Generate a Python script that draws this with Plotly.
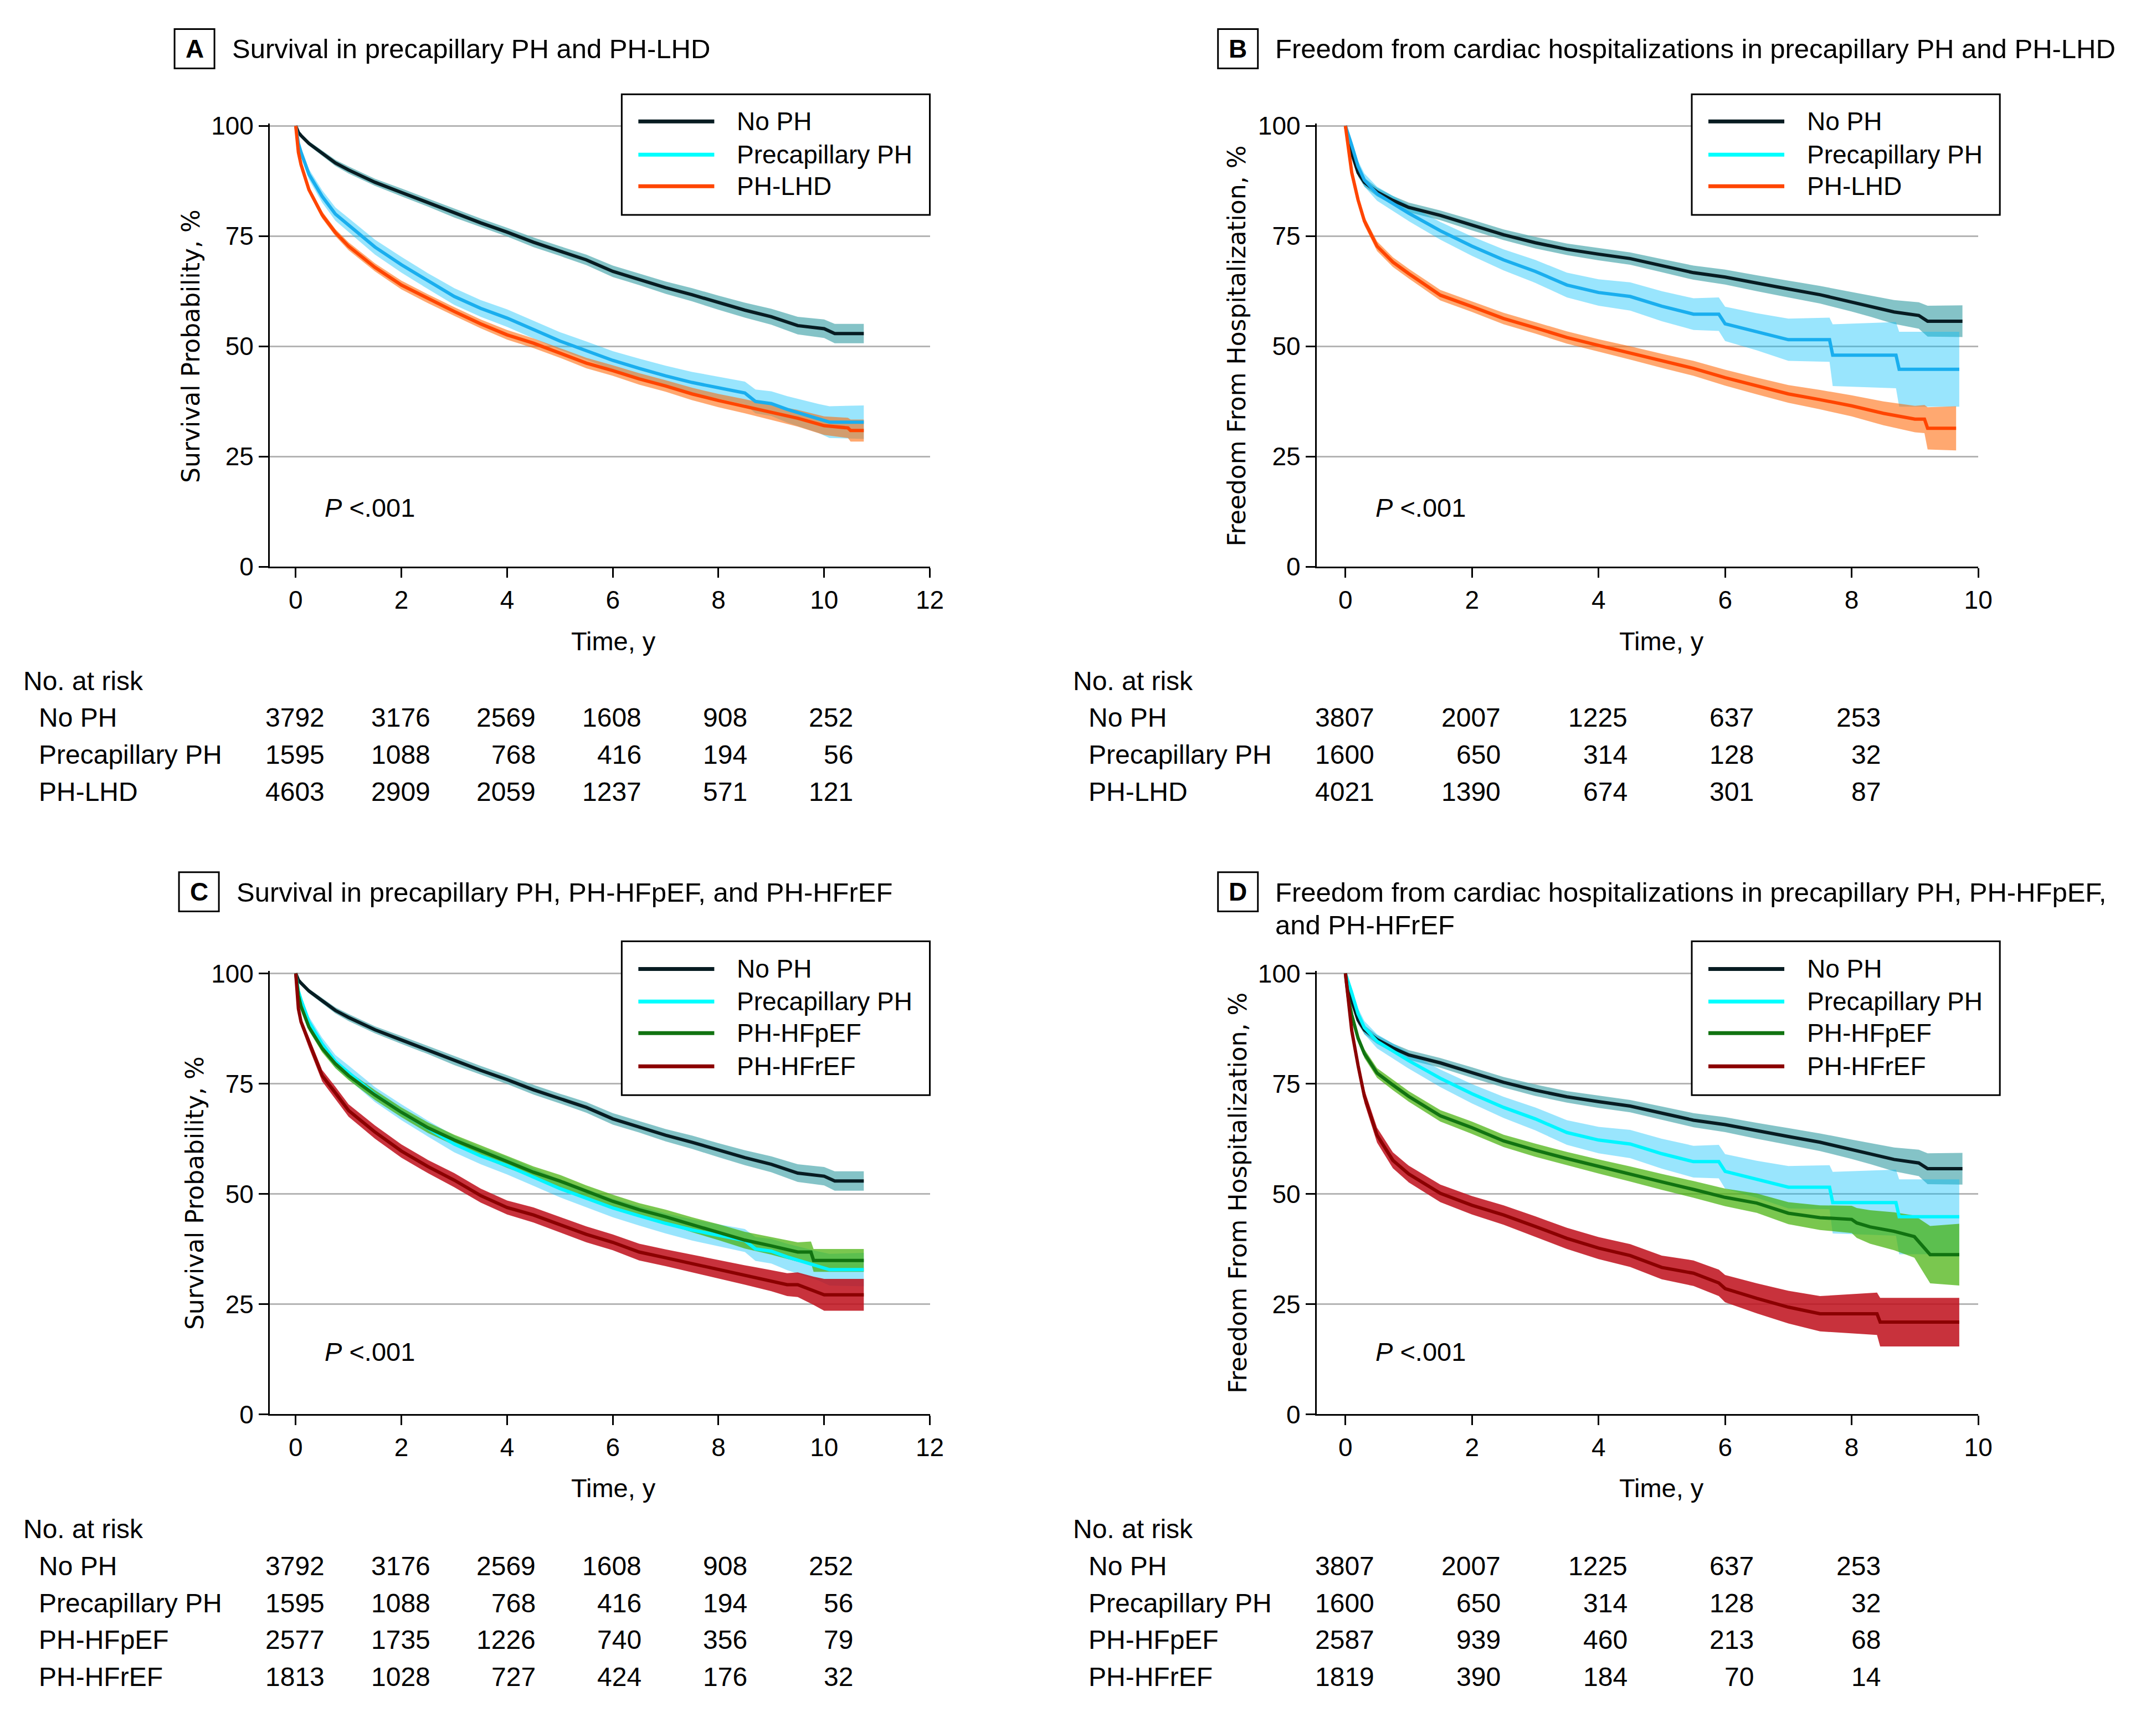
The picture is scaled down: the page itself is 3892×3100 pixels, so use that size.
import plotly.graph_objects as go

W, H = 3892, 3100

# ---------------- data ----------------
# Survival (panels A and C)
SURV_NOPH_T = [0, 0.05, 0.1, 0.25, 0.5, 0.75, 1, 1.5, 2, 2.5, 3, 3.5, 4, 4.5, 5, 5.5, 6, 6.5, 7, 7.5, 8, 8.5, 9, 9.5, 10, 10.2, 10.75]
SURV_NOPH_S = [100, 98.5, 97.8, 96, 93.8, 91.6, 90, 87.2, 84.9, 82.6, 80.2, 78, 75.9, 73.6, 71.6, 69.6, 67, 65.2, 63.3, 61.7, 59.9, 58.2, 56.7, 54.7, 54, 52.9, 52.9]
SURV_NOPH_CI = [0, 0.3, 0.4, 0.5, 0.6, 0.7, 0.8, 0.8, 0.9, 0.9, 1.0, 1.0, 1.0, 1.1, 1.1, 1.2, 1.3, 1.3, 1.4, 1.5, 1.6, 1.7, 1.8, 2.0, 2.1, 2.2, 2.2]

SURV_PRE_T = [0, 0.05, 0.1, 0.25, 0.5, 0.75, 1, 1.5, 2, 2.5, 3, 3.5, 4, 4.5, 5, 5.5, 6, 6.5, 7, 7.5, 8, 8.5, 8.7, 9, 9.3, 9.5, 9.9, 10.1, 10.75]
SURV_PRE_S = [100, 96, 94, 89, 84, 80, 77.5, 72.5, 68.5, 64.8, 61.3, 58.6, 56.4, 53.8, 51.2, 49, 46.8, 45, 43.3, 41.8, 40.6, 39.4, 37.5, 37, 35.7, 35, 33.6, 32.8, 32.8]
SURV_PRE_CI = [0, 0.8, 1.0, 1.2, 1.4, 1.5, 1.6, 1.7, 1.8, 1.8, 1.9, 1.9, 2.0, 2.0, 2.0, 2.1, 2.1, 2.2, 2.3, 2.4, 2.5, 2.6, 2.7, 2.8, 3.0, 3.1, 3.3, 3.6, 3.8]

SURV_LHD_T = [0, 0.05, 0.1, 0.25, 0.5, 0.75, 1, 1.5, 2, 2.5, 3, 3.5, 4, 4.5, 5, 5.5, 6, 6.5, 7, 7.5, 8, 8.5, 9, 9.5, 10, 10.45, 10.5, 10.75]
SURV_LHD_S = [100, 94, 91.2, 85.5, 79.8, 75.8, 72.7, 67.9, 63.9, 60.8, 57.9, 55.1, 52.6, 50.7, 48.5, 46.2, 44.5, 42.6, 41, 39.2, 37.7, 36.4, 35, 33.7, 32.0, 31.5, 30.9, 30.9]
SURV_LHD_CI = [0, 0.5, 0.6, 0.7, 0.8, 0.8, 0.9, 0.9, 1.0, 1.0, 1.0, 1.0, 1.1, 1.1, 1.1, 1.2, 1.2, 1.3, 1.3, 1.4, 1.5, 1.6, 1.7, 1.9, 2.1, 2.3, 2.5, 2.5]

SURV_HFPEF_T = [0, 0.05, 0.1, 0.25, 0.5, 0.75, 1, 1.5, 2, 2.5, 3, 3.5, 4, 4.5, 5, 5.5, 6, 6.5, 7, 7.5, 8, 8.5, 9, 9.5, 9.75, 9.8, 10.75]
SURV_HFPEF_S = [100, 95, 92.5, 87.8, 83, 79.5, 76.8, 72.4, 68.5, 65, 62.2, 59.7, 57.2, 54.9, 52.9, 50.5, 48.3, 46.4, 44.8, 43, 41.3, 39.5, 38.2, 36.8, 36.8, 34.9, 34.9]
SURV_HFPEF_CI = [0, 0.5, 0.6, 0.8, 0.9, 1.0, 1.0, 1.1, 1.1, 1.2, 1.2, 1.3, 1.3, 1.3, 1.4, 1.4, 1.5, 1.5, 1.6, 1.7, 1.8, 1.9, 2.0, 2.2, 2.4, 2.6, 2.6]

SURV_HFREF_T = [0, 0.05, 0.1, 0.25, 0.5, 0.75, 1, 1.5, 2, 2.5, 3, 3.5, 4, 4.5, 5, 5.5, 6, 6.5, 7, 7.5, 8, 8.5, 9, 9.3, 9.5, 9.8, 10, 10.75]
SURV_HFREF_S = [100, 92, 89, 84.3, 76.8, 72.9, 68.9, 64, 59.7, 56.2, 53.1, 49.6, 46.9, 45.2, 43, 40.8, 39, 36.8, 35.5, 34.2, 32.9, 31.6, 30.3, 29.4, 29.4, 28, 27.1, 27.1]
SURV_HFREF_CI = [0, 0.8, 1.0, 1.2, 1.3, 1.4, 1.4, 1.5, 1.5, 1.5, 1.6, 1.6, 1.6, 1.7, 1.7, 1.8, 1.8, 1.9, 1.9, 2.0, 2.1, 2.2, 2.4, 2.6, 2.8, 3.2, 3.6, 3.6]

# Freedom from cardiac hospitalization (panels B and D)
HOSP_NOPH_T = [0, 0.05, 0.1, 0.2, 0.3, 0.5, 0.75, 1, 1.5, 2, 2.5, 3, 3.5, 4, 4.5, 5, 5.5, 6, 6.5, 7, 7.5, 8, 8.3, 8.67, 9.06, 9.2, 9.75]
HOSP_NOPH_S = [100, 96.5, 93.8, 89.4, 87.2, 85, 83.1, 81.5, 79.7, 77.5, 75.3, 73.5, 72, 70.9, 69.9, 68.3, 66.7, 65.7, 64.3, 63, 61.7, 60.1, 59.1, 57.8, 57, 55.7, 55.7]
HOSP_NOPH_CI = [0, 0.6, 0.8, 0.9, 1.0, 1.0, 1.0, 1.1, 1.1, 1.2, 1.2, 1.3, 1.3, 1.4, 1.4, 1.5, 1.6, 1.7, 1.8, 1.9, 2.0, 2.2, 2.4, 2.7, 3.0, 3.5, 3.6]

HOSP_PRE_T = [0, 0.05, 0.1, 0.2, 0.3, 0.5, 0.75, 1, 1.5, 2, 2.5, 3, 3.5, 4, 4.5, 5, 5.5, 5.9, 6, 6.5, 7, 7.65, 7.7, 8.7, 8.75, 9.7]
HOSP_PRE_S = [100, 98, 95.6, 90.8, 87.7, 84.6, 82.4, 80.2, 76.2, 72.7, 69.6, 67, 63.9, 62.2, 61.3, 59.1, 57.3, 57.3, 55.1, 53.3, 51.5, 51.5, 48, 48, 44.8, 44.8]
HOSP_PRE_CI = [0, 0.8, 1.0, 1.3, 1.5, 1.6, 1.7, 1.8, 2.0, 2.2, 2.4, 2.6, 2.8, 3.0, 3.2, 3.4, 3.6, 3.8, 3.9, 4.2, 4.8, 5.0, 7.0, 7.5, 8.5, 8.5]

HOSP_LHD_T = [0, 0.05, 0.1, 0.2, 0.3, 0.5, 0.75, 1, 1.5, 2, 2.5, 3, 3.5, 4, 4.5, 5, 5.5, 6, 6.5, 7, 7.5, 8, 8.5, 9, 9.15, 9.2, 9.65]
HOSP_LHD_S = [100, 94, 89.4, 83.2, 78.4, 72.7, 69.1, 66.5, 61.6, 59, 56.3, 54.2, 52, 50.2, 48.5, 46.7, 45, 42.9, 41, 39.2, 37.9, 36.5, 34.8, 33.5, 33.5, 31.4, 31.4]
HOSP_LHD_CI = [0, 0.6, 0.8, 1.0, 1.0, 1.1, 1.1, 1.1, 1.2, 1.2, 1.3, 1.3, 1.4, 1.4, 1.5, 1.6, 1.7, 1.8, 1.9, 2.0, 2.2, 2.4, 2.7, 3.0, 3.2, 4.8, 5.0]

HOSP_HFPEF_T = [0, 0.05, 0.1, 0.2, 0.3, 0.5, 0.75, 1, 1.5, 2, 2.5, 3, 3.5, 4, 4.5, 5, 5.5, 6, 6.5, 7, 7.5, 8.0, 8.08, 8.29, 8.67, 8.99, 9.24, 9.7]
HOSP_HFPEF_S = [100, 94, 90.6, 85.3, 81.8, 77.4, 74.7, 72.1, 67.7, 65, 62, 59.9, 58, 56.2, 54.5, 52.7, 51, 49.2, 47.9, 45.6, 44.6, 44.2, 43.4, 42.5, 41.5, 40.3, 36.2, 36.2]
HOSP_HFPEF_CI = [0, 0.7, 0.8, 0.9, 1.0, 1.1, 1.2, 1.2, 1.3, 1.4, 1.4, 1.5, 1.5, 1.6, 1.7, 1.8, 1.9, 2.0, 2.2, 2.5, 2.8, 3.1, 3.4, 3.8, 4.3, 4.8, 6.5, 7.0]

HOSP_HFREF_T = [0, 0.05, 0.1, 0.2, 0.3, 0.5, 0.75, 1, 1.5, 2, 2.5, 3, 3.5, 4, 4.5, 5, 5.5, 5.9, 6, 6.5, 7, 7.5, 8.4, 8.45, 9.7]
HOSP_HFREF_S = [100, 93, 87, 79.1, 72.1, 63.3, 57.6, 54.5, 50.1, 47.4, 45.2, 42.6, 39.9, 37.7, 36, 33.3, 32, 29.8, 28.5, 26.3, 24.3, 22.8, 22.8, 20.9, 20.9]
HOSP_HFREF_CI = [0, 0.8, 1.0, 1.3, 1.5, 1.7, 1.8, 1.9, 2.0, 2.1, 2.2, 2.3, 2.4, 2.5, 2.6, 2.7, 2.9, 3.0, 3.1, 3.4, 3.7, 4.0, 4.8, 5.5, 5.5]

# Numbers at risk
SURV_RISK_TIMES = [0, 2, 4, 6, 8, 10]
HOSP_RISK_TIMES = [0, 2, 4, 6, 8]
RISK_A = {"No PH": [3792, 3176, 2569, 1608, 908, 252],
          "Precapillary PH": [1595, 1088, 768, 416, 194, 56],
          "PH-LHD": [4603, 2909, 2059, 1237, 571, 121]}
RISK_B = {"No PH": [3807, 2007, 1225, 637, 253],
          "Precapillary PH": [1600, 650, 314, 128, 32],
          "PH-LHD": [4021, 1390, 674, 301, 87]}
RISK_C = {"No PH": [3792, 3176, 2569, 1608, 908, 252],
          "Precapillary PH": [1595, 1088, 768, 416, 194, 56],
          "PH-HFpEF": [2577, 1735, 1226, 740, 356, 79],
          "PH-HFrEF": [1813, 1028, 727, 424, 176, 32]}
RISK_D = {"No PH": [3807, 2007, 1225, 637, 253],
          "Precapillary PH": [1600, 650, 314, 128, 32],
          "PH-HFpEF": [2587, 939, 460, 213, 68],
          "PH-HFrEF": [1819, 390, 184, 70, 14]}

# ---------------- styling ----------------
FONT = "Liberation Sans, Arial, sans-serif"
AXFONT = "DejaVu Sans, Verdana, sans-serif"
C_NOPH, B_NOPH = "#071C22", "rgba(80,170,175,0.7)"
C_PRE_AB, C_PRE_CD, B_PRE = "#1AAEEE", "#00F5FF", "rgba(0,190,250,0.4)"
C_LHD, B_LHD = "#FF4500", "rgba(255,100,0,0.56)"
C_PEF, B_PEF = "#117311", "rgba(65,175,4,0.7)"
C_REF, B_REF = "#8B0000", "rgba(190,14,26,0.85)"
GRID = "#B4B4B4"

# Page-pixel positions (as measured on the target) are mapped to figure
# fractions; a small correction compensates for the page framing.
X0, XS = 10.0, 0.993
Y0, YS = 28.5, 0.9857


def fx(p):
    return ((p - X0) / XS) / W


def fy(p):
    return 1 - ((p - Y0) / YS) / H


fig = go.Figure()

panels = {
    "A": ("x", "y", (489, 1680), (1023, 222), [-0.49, 12], 12),
    "B": ("x2", "y2", (2378, 3572), (1023, 222), [-0.455, 10], 10),
    "C": ("x3", "y3", (489, 1680), (2555, 1754), [-0.49, 12], 12),
    "D": ("x4", "y4", (2378, 3572), (2555, 1754), [-0.455, 10], 10),
}

series = {
    "A": [(SURV_NOPH_T, SURV_NOPH_S, SURV_NOPH_CI, C_NOPH, B_NOPH),
          (SURV_PRE_T, SURV_PRE_S, SURV_PRE_CI, C_PRE_AB, B_PRE),
          (SURV_LHD_T, SURV_LHD_S, SURV_LHD_CI, C_LHD, B_LHD)],
    "B": [(HOSP_NOPH_T, HOSP_NOPH_S, HOSP_NOPH_CI, C_NOPH, B_NOPH),
          (HOSP_PRE_T, HOSP_PRE_S, HOSP_PRE_CI, C_PRE_AB, B_PRE),
          (HOSP_LHD_T, HOSP_LHD_S, HOSP_LHD_CI, C_LHD, B_LHD)],
    "C": [(SURV_NOPH_T, SURV_NOPH_S, SURV_NOPH_CI, C_NOPH, B_NOPH),
          (SURV_PRE_T, SURV_PRE_S, SURV_PRE_CI, C_PRE_CD, B_PRE),
          (SURV_HFPEF_T, SURV_HFPEF_S, SURV_HFPEF_CI, C_PEF, B_PEF),
          (SURV_HFREF_T, SURV_HFREF_S, SURV_HFREF_CI, C_REF, B_REF)],
    "D": [(HOSP_NOPH_T, HOSP_NOPH_S, HOSP_NOPH_CI, C_NOPH, B_NOPH),
          (HOSP_PRE_T, HOSP_PRE_S, HOSP_PRE_CI, C_PRE_CD, B_PRE),
          (HOSP_HFPEF_T, HOSP_HFPEF_S, HOSP_HFPEF_CI, C_PEF, B_PEF),
          (HOSP_HFREF_T, HOSP_HFREF_S, HOSP_HFREF_CI, C_REF, B_REF)],
}

layout = dict(width=W, height=H, margin=dict(l=0, r=0, t=0, b=0), autosize=False,
              paper_bgcolor="white", plot_bgcolor="white", showlegend=False)

for key, (xa, ya, xd, yd, xr, xmax) in panels.items():
    xname = "xaxis" if xa == "x" else "xaxis" + xa[1:]
    yname = "yaxis" if ya == "y" else "yaxis" + ya[1:]
    layout[xname] = dict(domain=[fx(xd[0]), fx(xd[1])], range=xr, anchor=ya,
                         tickvals=list(range(0, xmax + 1, 2)), ticks="outside", ticklen=17,
                         tickwidth=3, tickcolor="black", showline=True, linewidth=3,
                         linecolor="black", showgrid=False, zeroline=False,
                         tickfont=dict(family=FONT, size=46, color="black"))
    layout[yname] = dict(domain=[fy(yd[0]), fy(yd[1])], range=[0, 100.5], anchor=xa,
                         tickvals=[0, 25, 50, 75, 100], ticks="outside", ticklen=17,
                         tickwidth=3, tickcolor="black", showline=True, linewidth=3,
                         linecolor="black", showgrid=True, gridcolor=GRID, gridwidth=3,
                         zeroline=False, tickfont=dict(family=FONT, size=46, color="black"))
    for t, s, ci, lc, bc in series[key]:
        lo = [max(v - h, 0) for v, h in zip(s, ci)]
        hi = [min(v + h, 100) for v, h in zip(s, ci)]
        fig.add_trace(go.Scatter(x=list(t) + list(t)[::-1], y=hi + lo[::-1], fill="toself",
                                 fillcolor=bc, line=dict(width=0), mode="lines",
                                 hoverinfo="skip", xaxis=xa, yaxis=ya))
    for t, s, ci, lc, bc in series[key]:
        fig.add_trace(go.Scatter(x=t, y=s, mode="lines", line=dict(color=lc, width=6),
                                 xaxis=xa, yaxis=ya))

fig.update_layout(**layout)

shapes = []
annotations = []


def text(x, y, s, size=48, family=FONT, xanchor="left", **kw):
    annotations.append(dict(x=fx(x), y=fy(y), xref="paper", yref="paper", text=s,
                            showarrow=False, xanchor=xanchor, yanchor="middle",
                            font=dict(family=family, size=size, color="black"), **kw))


titles = [
    ("A", (317, 389, 51, 122), 419, [(87, "Survival in precapillary PH and PH-LHD")]),
    ("B", (2200, 2272, 51, 122), 2301, [(87, "Freedom from cardiac hospitalizations in precapillary PH and PH-LHD")]),
    ("C", (325, 397, 1575, 1646), 427, [(1611, "Survival in precapillary PH, PH-HFpEF, and PH-HFrEF")]),
    ("D", (2200, 2272, 1575, 1646), 2301, [(1611, "Freedom from cardiac hospitalizations in precapillary PH, PH-HFpEF,"),
                                           (1670, "and PH-HFrEF")]),
]
for letter, (x0, x1, y0, y1), tx, lines in titles:
    shapes.append(dict(type="rect", xref="paper", yref="paper", x0=fx(x0), x1=fx(x1),
                       y0=fy(y0), y1=fy(y1), line=dict(color="black", width=3)))
    text((x0 + x1) / 2, (y0 + y1) / 2, "<b>%s</b>" % letter, size=46, xanchor="center")
    for ly, s in lines:
        text(tx, ly, s, size=49)

legend_boxes = {
    "A": ((1124, 1680, 169, 387), [218, 278, 335], ["No PH", "Precapillary PH", "PH-LHD"],
          [C_NOPH, "#00FFFF", C_LHD]),
    "B": ((3055, 3611, 169, 387), [218, 278, 335], ["No PH", "Precapillary PH", "PH-LHD"],
          [C_NOPH, "#00FFFF", C_LHD]),
    "C": ((1124, 1680, 1700, 1978), [1750, 1809, 1866, 1926],
          ["No PH", "Precapillary PH", "PH-HFpEF", "PH-HFrEF"], [C_NOPH, "#00FFFF", C_PEF, C_REF]),
    "D": ((3055, 3611, 1700, 1978), [1750, 1809, 1866, 1926],
          ["No PH", "Precapillary PH", "PH-HFpEF", "PH-HFrEF"], [C_NOPH, "#00FFFF", C_PEF, C_REF]),
}
for key, ((x0, x1, y0, y1), ys, names, cols) in legend_boxes.items():
    shapes.append(dict(type="rect", xref="paper", yref="paper", x0=fx(x0), x1=fx(x1),
                       y0=fy(y0), y1=fy(y1), line=dict(color="black", width=3),
                       fillcolor="white", layer="above"))
    for yy, nm, c in zip(ys, names, cols):
        shapes.append(dict(type="line", xref="paper", yref="paper", x0=fx(x0 + 30), x1=fx(x0 + 167),
                           y0=fy(yy), y1=fy(yy), line=dict(color=c, width=7), layer="above"))
        text(x0 + 206, yy, nm, size=46)

for key, ytx, yc, tx, ty, px, py, ylab in [
    ("A", 347, 624, 1109, 1157, 586, 916, "Survival Probability, %"),
    ("B", 2234, 624, 3001, 1157, 2482, 916, "Freedom From Hospitalization, %"),
    ("C", 354, 2155, 1109, 2688, 586, 2442, "Survival Probability, %"),
    ("D", 2236, 2155, 3001, 2688, 2482, 2442, "Freedom From Hospitalization, %"),
]:
    text(ytx, yc, ylab, size=44, family=AXFONT, xanchor="center", textangle=-90)
    text(tx, ty, "Time, y", size=47, xanchor="center")
    text(px, py, "<i>P</i> <.001", size=47)

for key, xa, times, risk, lx, ly in [
    ("A", "x", SURV_RISK_TIMES, RISK_A, 42, 1229),
    ("B", "x2", HOSP_RISK_TIMES, RISK_B, 1936, 1229),
    ("C", "x3", SURV_RISK_TIMES, RISK_C, 42, 2762),
    ("D", "x4", HOSP_RISK_TIMES, RISK_D, 1936, 2762),
]:
    text(lx, ly, "No. at risk", size=48)
    for i, (nm, vals) in enumerate(risk.items()):
        ry = ly + 67 * (i + 1)
        text(lx + 28, ry, nm, size=48)
        for t, v in zip(times, vals):
            annotations.append(dict(x=t, y=fy(ry), xref=xa, yref="paper", text=str(v),
                                    showarrow=False, xanchor="right", yanchor="middle",
                                    xshift=54, font=dict(family=FONT, size=48, color="black")))

fig.update_layout(shapes=shapes, annotations=annotations)
fig.write_html("out.html")
